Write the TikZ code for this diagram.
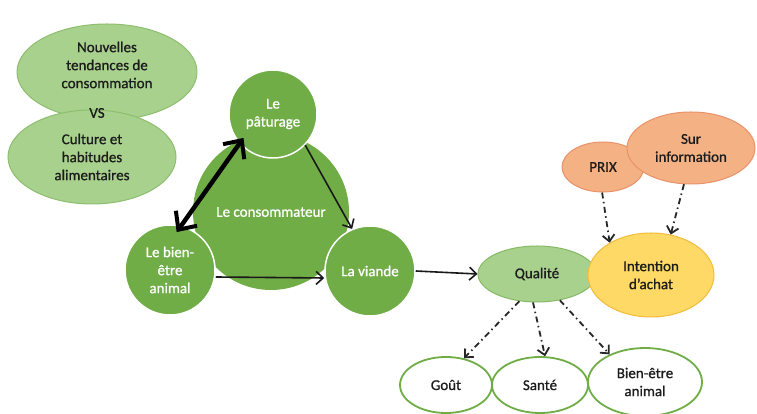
\documentclass[tikz,border=0pt]{standalone}
\usepackage{fontspec}
\setmainfont{Carlito}[FakeBold=0.9]
\usetikzlibrary{shapes.geometric,arrows.meta,calc}
\definecolor{dgreen}{HTML}{70AD47}
\definecolor{lgreen}{HTML}{A9D18E}
\definecolor{lgreenb}{HTML}{8DBE6E}
\definecolor{peach}{HTML}{F4B183}
\definecolor{peachb}{HTML}{E8926A}
\definecolor{gold}{HTML}{FFD966}
\definecolor{goldb}{HTML}{F2BB3A}
\definecolor{txt}{HTML}{1C1C1C}
\begin{document}
\begin{tikzpicture}[x=1pt,y=1pt,
  every node/.style={font=\fontsize{15}{18}\selectfont, align=center, inner sep=0pt},
  lell/.style={ellipse, fill=lgreen, draw=lgreenb, line width=1pt, text=txt},
  gcirc/.style={circle, fill=dgreen, draw=white, line width=1.5pt, text=white},
  pell/.style={ellipse, fill=peach, draw=peachb, line width=1pt, text=txt},
  yell/.style={ellipse, fill=gold, draw=goldb, line width=1pt, text=txt},
  well/.style={ellipse, fill=white, draw=dgreen, line width=1.8pt, text=txt},
  thinarr/.style={draw=black!90, line width=1.6pt, -{Straight Barb[length=7pt,width=13pt,line width=1.6pt]}},
  thickarr/.style={draw=black, line width=4.5pt, {Straight Barb[length=14pt,width=26pt,line width=4pt]}-{Straight Barb[length=14pt,width=26pt,line width=4pt]}},
  ddarr/.style={draw=black!85, line width=1.8pt, dash pattern=on 6pt off 3.5pt on 1.5pt off 3.5pt, -{Straight Barb[length=6.5pt,width=12pt,line width=1.8pt]}}
]
\useasboundingbox (0,0) rectangle (757,414);
% left ellipses
\node[lell, minimum width=180pt, minimum height=96pt] (nouv) at (107,342) {};
\node[text=txt] (nouvt) at (107,349) {Nouvelles\\tendances de\\consommation};
\node[lell, minimum width=168pt, minimum height=94pt] (cult) at (92,257) {Culture et\\habitudes\\alimentaires};
\node[text=txt] (vs) at (97,301) {VS};
% consumer circles
\node[circle, fill=dgreen, minimum size=156pt, text=white] (cons) at (271,202) {Le consommateur};
\node[gcirc, minimum size=88pt] (pat) at (273,300) {Le\\pâturage};
\node[gcirc, minimum size=90pt] (bien) at (170,144) {Le bien-\\être\\animal};
\node[gcirc, minimum size=90pt] (viande) at (370,143) {La viande};
\coordinate (tA) at ($(pat.center)+(219:38)$);
\coordinate (tB) at ($(bien.center)+(80:38.5)$);
\draw[thickarr] (tA) -- (tB);
\draw[thinarr] (pat.-44) -- (viande.113);
\draw[thinarr] ([yshift=-7pt]bien.east) -- ([yshift=-7pt]viande.west);
% right part
\node[lell, draw=dgreen!85, minimum width=118pt, minimum height=56pt] (qual) at (537,140) {Qualité};
\draw[thinarr] (viande.east) -- (qual.west);
\node[yell, minimum width=126pt, minimum height=84pt] (int) at (651,139) {Intention\\d’achat};
\node[pell, minimum width=82pt, minimum height=50pt] (prix) at (603,247) {PRIX};
\node[pell, minimum width=128pt, minimum height=72pt] (sur) at (691,266) {Sur\\information};
\node[well, minimum width=92pt, minimum height=56pt] (gout) at (446,29) {Goût};
\node[well, minimum width=96pt, minimum height=56pt] (sante) at (540,29) {Santé};
\node[well, minimum width=114pt, minimum height=68pt] (bienet) at (645,32) {Bien-être\\animal};
\draw[ddarr] (prix.268) -- (int.142);
\draw[ddarr] (sur.259) -- (int.64);
\draw[ddarr] (qual.237) -- (gout.56);
\draw[ddarr] (qual.262) -- (sante.80);
\draw[ddarr] (qual.311) -- (bienet.142);
\end{tikzpicture}
\end{document}
